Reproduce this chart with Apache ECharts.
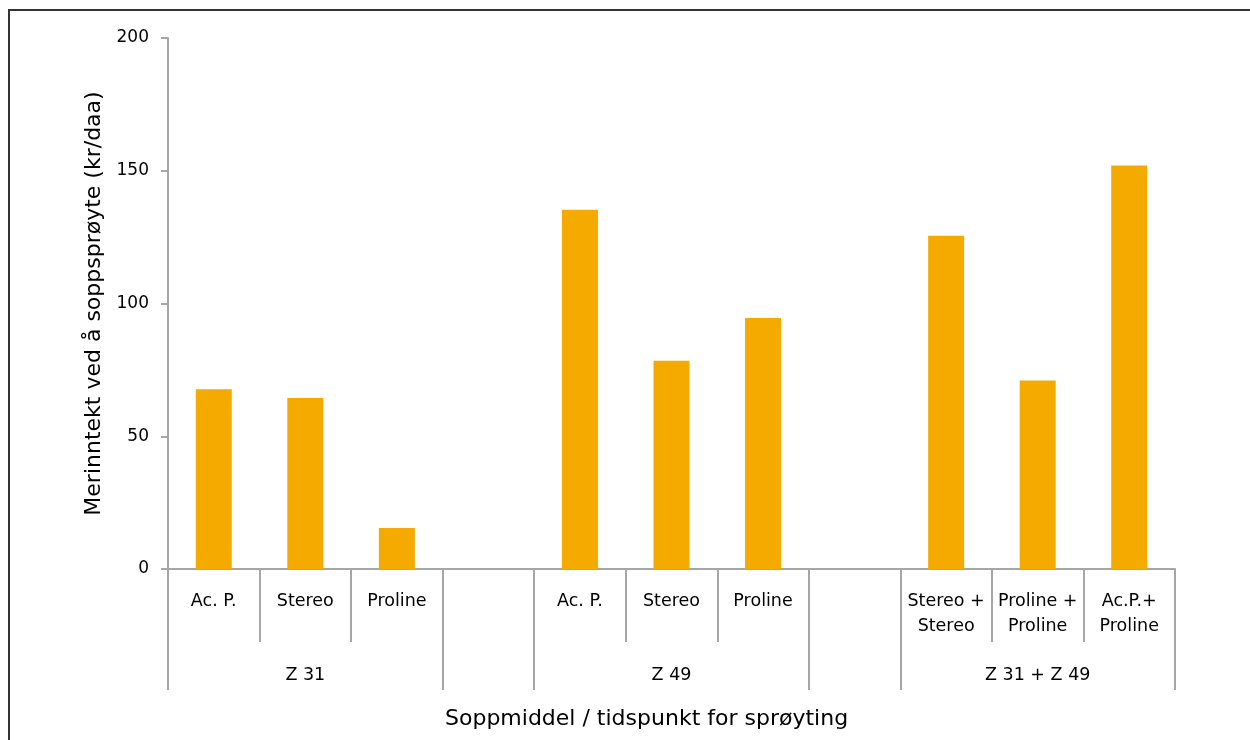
<!DOCTYPE html>
<html>
<head>
<meta charset="utf-8">
<script src="https://cdn.jsdelivr.net/npm/echarts@6/dist/echarts.min.js"></script>
<style>
html,body{margin:0;padding:0;background:#fff;}
#frame{position:absolute;left:8px;top:9px;width:1300px;height:800px;border-top:2px solid #333;border-left:2px solid #333;}
#chart{position:absolute;left:0;top:0;width:1250px;height:740px;}
</style>
</head>
<body>
<div id="frame"></div>
<div id="chart"></div>
<script>
// Data
const categories = ['Ac. P.', 'Stereo', 'Proline', '', 'Ac. P.', 'Stereo', 'Proline', '', 'Stereo +\nStereo', 'Proline +\nProline', 'Ac.P.+\nProline'];
const values = [67.7, 64.4, 15.4, null, 135.3, 78.4, 94.5, null, 125.5, 71.0, 152.0];
const groupLabels = ['Z 31', '', 'Z 49', '', 'Z 31 + Z 49'];
const groupSizes = [3, 1, 3, 1, 3];
const yTicks = [0, 50, 100, 150, 200];
const yName = 'Merinntekt ved å soppsprøyte (kr/daa)';
const xName = 'Soppmiddel / tidspunkt for sprøyting';

// build group axis
const groupData = [];
const groupStarts = new Set();
let idx = 0;
groupSizes.forEach((n, g) => {
  groupStarts.add(idx);
  for (let i = 0; i < n; i++) {
    groupData.push(i === Math.floor((n - 1) / 2) ? groupLabels[g] : '');
  }
  idx += n;
});

const FONT = 'DejaVu Sans';
const GRAY = '#A6A6A6';
const chart = echarts.init(document.getElementById('chart'));
chart.setOption({
  animation: false,
  textStyle: {fontFamily: FONT},
  grid: {left: 168, right: 75, top: 38, bottom: 171, containLabel: false},
  title: {
    text: xName, left: 440, top: 703,
    textStyle: {fontFamily: FONT, fontSize: 22, fontWeight: 'normal', color: '#000'}
  },
  xAxis: [
    {
      type: 'category', data: categories, position: 'bottom',
      axisLine: {show: true, lineStyle: {color: GRAY, width: 2}},
      axisTick: {show: true, length: 73, interval: 0, lineStyle: {color: GRAY, width: 2}},
      axisLabel: {interval: 0, margin: 20, verticalAlign: 'top', fontSize: 17.5, color: '#000', lineHeight: 25, fontFamily: FONT}
    },
    {
      type: 'category', data: groupData, position: 'bottom', offset: 73,
      axisLine: {show: false},
      axisTick: {show: true, length: 48, interval: (i) => groupStarts.has(i), lineStyle: {color: GRAY, width: 2}},
      axisLabel: {interval: 0, margin: 33, verticalAlign: 'middle', fontSize: 17.5, color: '#000', fontFamily: FONT}
    }
  ],
  yAxis: {
    type: 'value', min: yTicks[0], max: yTicks[yTicks.length - 1], interval: 50,
    name: yName, nameLocation: 'middle', nameGap: 60, nameRotate: 90,
    nameTextStyle: {fontSize: 22, color: '#000', fontFamily: FONT},
    axisLine: {show: true, lineStyle: {color: GRAY, width: 2}},
    axisTick: {show: true, length: 7, lineStyle: {color: GRAY, width: 2}},
    axisLabel: {fontSize: 17, color: '#000', margin: 19, fontFamily: FONT},
    splitLine: {show: false}
  },
  series: [{
    type: 'bar', data: values, xAxisIndex: 0, barWidth: 36,
    itemStyle: {color: '#F5AA00'}
  }]
});
</script>
</body>
</html>
